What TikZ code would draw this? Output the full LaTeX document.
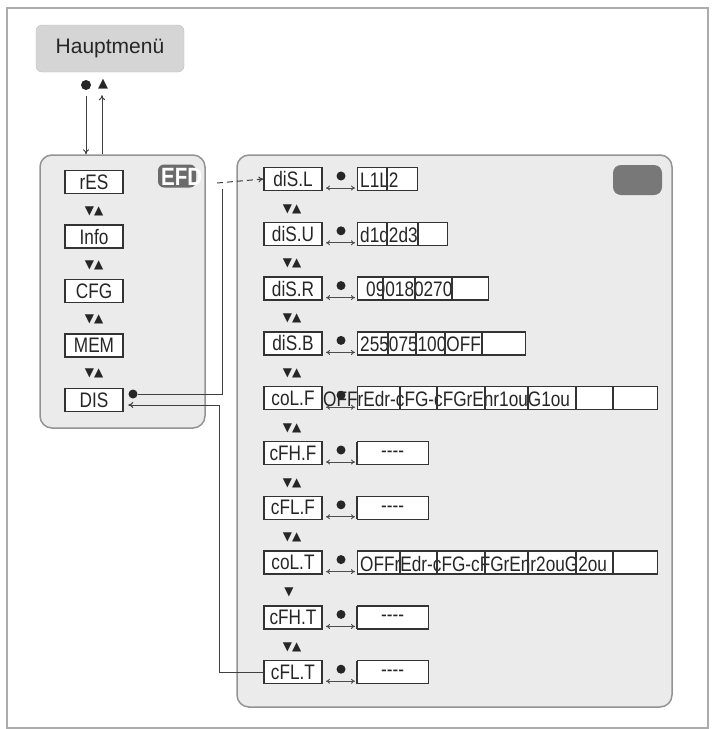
\documentclass[tikz,border=0pt]{standalone}
\usepackage{fontspec}
\setmainfont{Liberation Sans}
\newfontfamily\lcdfont[FakeStretch=0.82]{Liberation Sans}
\newfontfamily\symfont{DejaVu Sans}
\newcommand\blankval{-{}-{}-{}-}
\usetikzlibrary{arrows.meta}

\begin{document}
\begin{tikzpicture}[x=1pt, y=-1pt,
    panel/.style={draw=gray!85, fill=gray!16, line width=1.5pt, rounded corners=12pt, inner sep=0pt},
    lbl/.style={draw=black!80, fill=white, line width=1.3pt, minimum width=58pt, minimum height=23pt, inner sep=0pt, font=\lcdfont\fontsize{21}{21}\selectfont, text=black!85},
    cell/.style={draw=black!80, fill=white, line width=1.3pt, minimum height=23pt, inner sep=0pt},
    lcd/.style={inner sep=0pt, font=\lcdfont\fontsize{21}{21}\selectfont, text=black!85},
    updown/.style={inner sep=0pt, font=\symfont\fontsize{12}{12}\selectfont, text=black!85},
    dot/.style={circle, fill=black!85, inner sep=0pt, minimum size=9pt},
    conn/.style={draw=black!75, line width=1pt},
    tip/.style={-{To[length=5pt,width=6pt]}},
  ]
  \useasboundingbox (0,0) rectangle (712,729);
  \draw[gray!65, line width=1.5pt] (7,8) rectangle (708,728);

  % main menu and the way into the menu
  \node[draw=gray!50, fill=gray!33, rounded corners=6pt, minimum width=148pt, minimum height=47pt,
        font=\fontsize{21}{21}\selectfont, text=black!85] (hmenu) at (110,48.5) {Hauptmenü};
  \node[dot, minimum size=10pt] (dotsym) at (86,85) {};
  \node[updown, font=\symfont\fontsize{13}{13}\selectfont] (trisym) at (103,84) {▲};

  \node[panel, minimum width=165pt, minimum height=273pt] (menu) at (122.5,291.5) {};
  \node[panel, minimum width=435pt, minimum height=552pt] (display) at (454.5,431) {};

  \draw[conn, tip, shorten <=6pt] (dotsym) -- (dotsym |- menu.north);
  \draw[conn, tip, shorten >=6pt] ([xshift=-1pt]trisym |- menu.north) -- ([xshift=-1pt]trisym.south);

  % badges
  \node[fill=black!58, rounded corners=6pt, minimum width=38pt, minimum height=23pt, inner sep=0pt] (efd) at (177,176) {};
  \node[anchor=west, inner sep=0pt, text=white, font=\bfseries\lcdfont\fontsize{25}{25}\selectfont] (efdtext) at (161,177) {EFD};
  \node[fill=black!53, rounded corners=8pt, minimum width=49pt, minimum height=30pt] (shade) at (637.5,180) {};

  % menu items left
  \foreach \n/\t [count=\i] in {res/rES, info/Info, cfg/CFG, mem/MEM, dis/DIS} {
    \node[lbl] (\n) at (94,{182+54.5*(\i-1)}) {\t};
  }
  \foreach \i in {1,...,4} \node[updown] at (94,{211+54*(\i-1)}) {▼▲};

  % display menu items right
  \foreach \n/\t/\r/\ds/\vt/\vx [count=\i] in {
      disL/diS.L/417/{387}/L1L2/360,
      disU/diS.U/447/{387,418}/d1d2d3/360,
      disR/diS.R/488/{383,415,452}/090180270/366,
      disB/diS.B/525/{388,416,445,482}/255075100OFF/360,
      colF/coL.F/657/{400,437,485,528,576,613}/OFFrEdr-cFG-cFGrEnr1ouG1ou/323,
      cfhF/cFH.F/428/{357}/\blankval/381,
      cflF/cFL.F/428/{357}/\blankval/381,
      colT/coL.T/657/{400,437,485,528,576,613}/OFFrEdr-cFG-cFGrEnr2ouG2ou/360,
      cfhT/cFH.T/428/{357}/\blankval/381,
      cflT/cFL.T/428/{357}/\blankval/381} {
    \pgfmathsetmacro\yy{179+54.8*(\i-1)}
    \node[lbl] (\n) at (293,\yy) {\t};
    \node[cell, minimum width={\r-357}, anchor=west] (\n v) at (357,\yy) {};
    \node[dot] at (341,\yy-3) {};
    \draw[black!70, line width=0.9pt, {To[length=4pt,width=5pt]}-{To[length=4pt,width=5pt]}] (326,\yy+9) -- (355,\yy+9);
    \node[lcd, anchor=west] at (\vx,\yy+1) {\vt};
    \foreach \x in \ds \draw[black!80, line width=1.3pt] (\x,\yy-11.5) -- (\x,\yy+11.5);
  }
  \foreach \i in {1,...,7,9} \node[updown] at (292,{209+54.8*(\i-1)}) {▼▲};
  \node[updown] at (289,{209+54.8*7}) {▼};

  % connectors between the two menus
  \node[dot] (dismark) at (133,394) {};
  \coordinate (fork) at (222,189);
  \coordinate (efdout) at (217,183);
  \coordinate (back) at (219,405);
  \draw[conn] (dismark) -| (fork);
  \draw[conn, dashed, dash pattern=on 6pt off 4pt, tip] (efdout) -- (disL.west);
  \draw[conn, tip] (cflT.west) -| (back) -- (back -| dismark.west);
\end{tikzpicture}
\end{document}
